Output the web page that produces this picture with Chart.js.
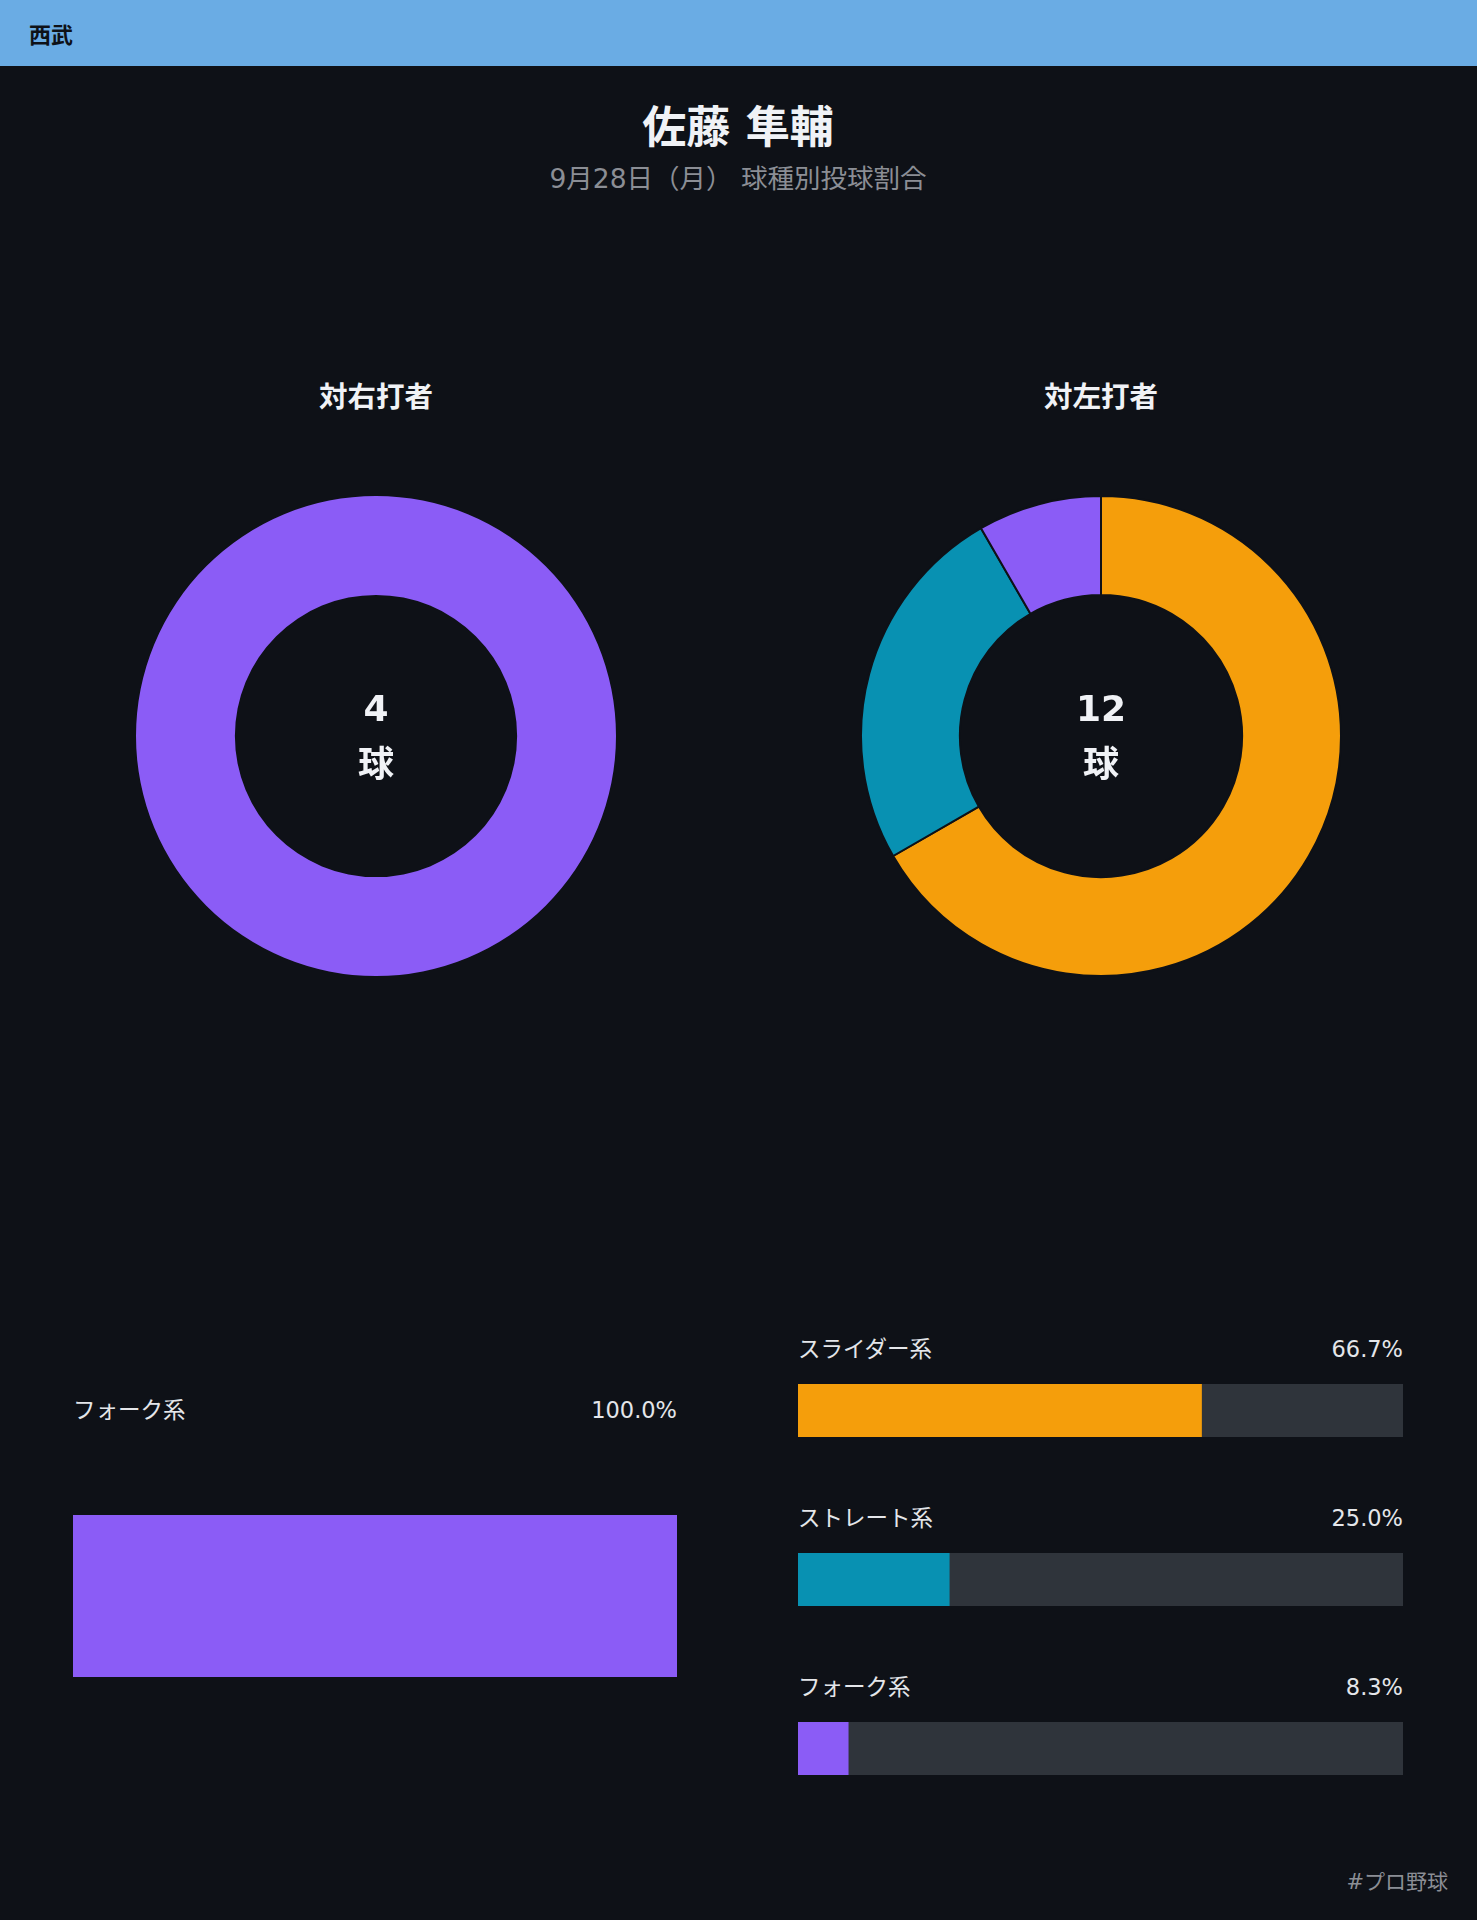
<!DOCTYPE html>
<html lang="ja">
<head>
<meta charset="utf-8">
<script src="https://cdn.jsdelivr.net/npm/chart.js@4"></script>
<style>
  html, body { margin: 0; padding: 0; }
  body {
    width: 1477px; height: 1920px; position: relative; overflow: hidden;
    background: #0e1117; color: #f0f2f6;
    font-family: "DejaVu Sans", "Noto Sans CJK JP", sans-serif;
  }
  .abs { position: absolute; }
  #header { left: 0; top: 0; width: 1477px; height: 66px; background: #6aace4; }
  #team { left: 29px; top: 33px; transform: translateY(-50%); font-size: 22px; font-weight: 700; color: #0e1117; }
  .center { transform: translate(-50%, -50%); white-space: nowrap; text-align: center; }
  #title { left: 738px; top: 124px; font-size: 44px; font-weight: 700; }
  #subtitle { left: 738px; top: 176px; font-size: 26.5px; color: #8b8e95; }
  .grp { font-size: 28.5px; font-weight: 700; }
  .total { font-size: 36px; font-weight: 700; line-height: 56px; }
  .row { display: flex; justify-content: space-between; align-items: baseline; font-size: 22.5px; color: #e4e6ea; transform: translateY(-50%); line-height: 1.3; }
  #footer { right: 29px; top: 1880px; transform: translateY(-50%); font-size: 21px; color: #8b8e95; }
</style>
</head>
<body>
<div id="header" class="abs"></div>
<div id="team" class="abs">西武</div>
<div id="title" class="abs center">佐藤 隼輔</div>
<div id="subtitle" class="abs center">9月28日（月） 球種別投球割合</div>
<div id="footer" class="abs">#プロ野球</div>

<script>
// data
const pitchTypes = ['スライダー系', 'ストレート系', 'フォーク系'];
const typeColors = ['#f59e0b', '#0891b2', '#8b5cf6'];

const rightTitle = '対右打者';
const rightCounts = [0, 0, 4];
const rightPct = [0, 0, 100.0];

const leftTitle = '対左打者';
const leftCounts = [8, 3, 1];
const leftPct = [66.7, 25.0, 8.3];

const bg = '#0e1117';
const trackColor = '#2f343b';

function addEl(cls, text, left, top, extra) {
  const d = document.createElement('div');
  d.className = 'abs ' + cls;
  d.textContent = text;
  d.style.left = left + 'px';
  d.style.top = top + 'px';
  if (extra) Object.assign(d.style, extra);
  document.body.appendChild(d);
  return d;
}

function addCanvas(left, top, w, h) {
  const box = document.createElement('div');
  box.className = 'abs';
  Object.assign(box.style, { left: left + 'px', top: top + 'px', width: w + 'px', height: h + 'px' });
  const c = document.createElement('canvas');
  box.appendChild(c);
  document.body.appendChild(box);
  return c;
}

// donut panel
function donut(cx, title, counts) {
  addEl('grp center', title, cx, 394);
  const used = pitchTypes.map((t, i) => i).filter(i => counts[i] > 0);
  const multi = used.length > 1;
  const size = multi ? 482 : 480;
  const ctx = addCanvas(cx - size / 2, 736 - size / 2, size, size);
  new Chart(ctx, {
    type: 'doughnut',
    data: {
      labels: used.map(i => pitchTypes[i]),
      datasets: [{
        data: used.map(i => counts[i]),
        backgroundColor: used.map(i => typeColors[i]),
        borderColor: bg,
        borderWidth: multi ? 2 : 0
      }]
    },
    options: {
      responsive: true,
      maintainAspectRatio: false,
      animation: false,
      cutout: '58.8%',
      layout: { padding: 0 },
      plugins: { legend: { display: false }, tooltip: { enabled: false } }
    }
  });
  const total = counts.reduce((a, b) => a + b, 0);
  const t = addEl('total center', '', cx, 737);
  t.innerHTML = total + '<br>球';
}

// horizontal bar with grey track
function bar(left, top, w, h, value, color) {
  const ctx = addCanvas(left, top, w, h);
  new Chart(ctx, {
    type: 'bar',
    data: {
      labels: [''],
      datasets: [
        { data: [value], backgroundColor: color, borderWidth: 0 },
        { data: [100 - value], backgroundColor: trackColor, borderWidth: 0 }
      ]
    },
    options: {
      indexAxis: 'y',
      responsive: true,
      maintainAspectRatio: false,
      animation: false,
      barPercentage: 1,
      categoryPercentage: 1,
      layout: { padding: 0 },
      scales: {
        x: { stacked: true, min: 0, max: 100, display: false },
        y: { stacked: true, display: false }
      },
      plugins: { legend: { display: false }, tooltip: { enabled: false } }
    }
  });
}

function labelRow(left, w, top, name, pct) {
  const r = addEl('row', '', left, top, { width: w + 'px' });
  const a = document.createElement('span'); a.textContent = name;
  const b = document.createElement('span'); b.textContent = pct.toFixed(1) + '%';
  r.appendChild(a); r.appendChild(b);
}

donut(376, rightTitle, rightCounts);
donut(1101, leftTitle, leftCounts);

// left panel: only one pitch type, drawn tall
pitchTypes.forEach((name, i) => {
  if (rightCounts[i] === 0) return;
  labelRow(73, 604, 1411, name, rightPct[i]);
  bar(73, 1515, 604, 162, rightPct[i], typeColors[i]);
});

// right panel: one row per pitch type
let k = 0;
pitchTypes.forEach((name, i) => {
  if (leftCounts[i] === 0) return;
  labelRow(798, 605, 1350 + k * 169, name, leftPct[i]);
  bar(798, 1384 + k * 169, 605, 53, leftPct[i], typeColors[i]);
  k++;
});
</script>
</body>
</html>
